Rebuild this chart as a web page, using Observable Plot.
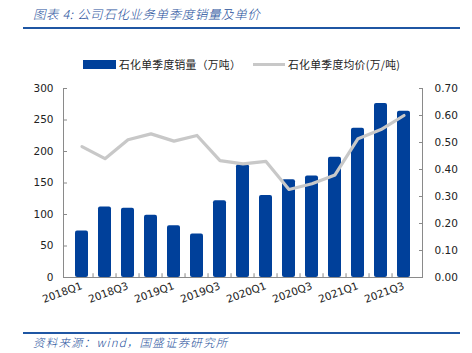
<!DOCTYPE html>
<html><head><meta charset="utf-8">
<script src="https://cdn.jsdelivr.net/npm/d3@7"></script>
<script src="https://cdn.jsdelivr.net/npm/@observablehq/plot@0.6"></script>
<style>
body{margin:0;background:#fff;}
#wrap{position:relative;width:472px;height:353px;overflow:hidden;font-family:"Noto Sans CJK SC",sans-serif;}
.title{position:absolute;left:33px;top:4px;font-size:12.5px;letter-spacing:0.6px;font-style:italic;font-weight:300;color:#1d4f9b;white-space:nowrap;}
.rule1{position:absolute;left:23px;top:27px;width:437px;height:2px;background:#1f56a3;}
.rule2{position:absolute;left:23px;top:332px;width:437px;height:1.5px;background:#1f56a3;}
.src{position:absolute;left:33px;top:334px;font-size:11.5px;letter-spacing:1.2px;font-style:italic;font-weight:300;color:#1d4f9b;white-space:nowrap;}
.leg{position:absolute;top:56px;font-size:10.8px;letter-spacing:0.3px;color:#222;white-space:nowrap;}
.sw1{position:absolute;left:83px;top:60px;width:33px;height:9px;background:#00409a;}
.sw2{position:absolute;left:253px;top:63px;width:32px;height:3px;background:#c8c8c8;}
#chart{position:absolute;left:0;top:0;}
</style></head>
<body><div id="wrap">
<div class="title">图表 4:  公司石化业务单季度销量及单价</div>
<div class="rule1"></div>
<div class="sw1"></div><div class="leg" style="left:119px">石化单季度销量（万吨）</div>
<div class="sw2"></div><div class="leg" style="left:288px">石化单季度均价(万/吨)</div>
<div id="chart"></div>
<div class="rule2"></div>
<div class="src">资料来源：wind，国盛证券研究所</div>
</div>
<script>
const quarters = ["2018Q1","2018Q2","2018Q3","2018Q4","2019Q1","2019Q2","2019Q3","2019Q4","2020Q1","2020Q2","2020Q3","2020Q4","2021Q1","2021Q2","2021Q3"];
const volume = [74,112,110,99,82,69,122,179,130,155,161,191,237,276,264];
const price = [0.485,0.44,0.51,0.532,0.505,0.526,0.433,0.421,0.43,0.326,0.347,0.38,0.514,0.548,0.60];
const leftTicks = [0,50,100,150,200,250,300];
const rightTicks = [0,0.1,0.2,0.3,0.4,0.5,0.6,0.7];
const labelQuarters = quarters.filter((q,i)=>i%2===0);

const k = 300/0.7;
const data = quarters.map((q,i)=>({q, v: volume[i], p: price[i]}));
const W = 472, H = 320;
const mL = 63, mR = 50;
const step = (W - mL - mR)/quarters.length;
const axisColor = "#8a8a8a";

const chart = Plot.plot({
  width: W, height: H,
  marginTop: 88, marginBottom: 43, marginLeft: mL, marginRight: mR,
  style: {fontFamily: "DejaVu Sans, sans-serif", fontSize: "10px", color: "#222", background: "transparent"},
  x: {domain: quarters, paddingInner: 0.45, paddingOuter: 0.225, axis: null},
  y: {domain: [0, 300], axis: null},
  marks: [
    Plot.barY(data, {x: "q", y: "v", fill: "#00409a", rx: 2}),
    Plot.line(data, {x: "q", y: d => d.p * k, stroke: "#c8c8c8", strokeWidth: 3.2}),
    Plot.ruleY([0], {stroke: axisColor}),
    Plot.frame({anchor: "left", stroke: axisColor}),
    Plot.frame({anchor: "right", stroke: axisColor}),
    Plot.ruleX(quarters.slice(1), {x: d => d, y1: 0, y2: 6, dx: -step/2, stroke: axisColor}),
    Plot.axisY(leftTicks, {anchor: "left", label: null, tickSize: -4, tickPadding: 14, stroke: axisColor, fill: "#222", fontSize: 10.5}),
    Plot.axisY(rightTicks.map(t => t * k), {anchor: "right", label: null, tickSize: -4, tickPadding: 16, stroke: axisColor, fill: "#222", fontSize: 10.5, tickFormat: d => (d / k).toFixed(2)}),
    Plot.axisX(labelQuarters, {anchor: "bottom", label: null, tickSize: 0, tickPadding: 8, tickRotate: -20, fill: "#222", fontSize: 10.5})
  ]
});
document.getElementById("chart").appendChild(chart);
</script>
</body></html>
